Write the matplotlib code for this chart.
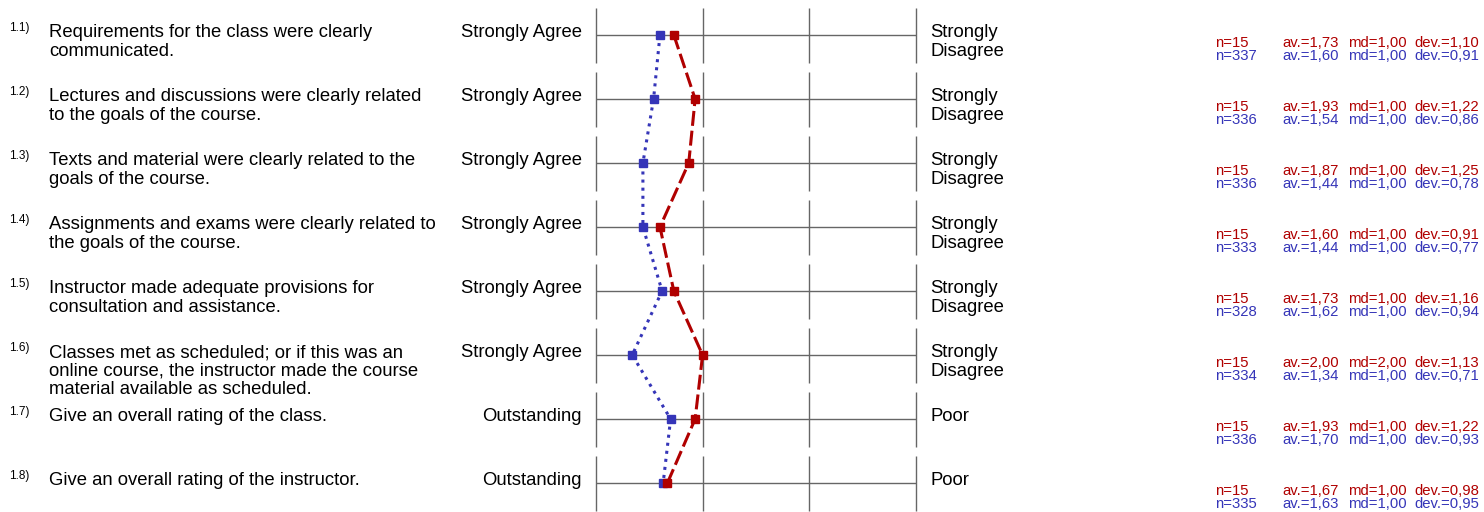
"""Course evaluation profile line: class vs. comparison group."""

import matplotlib

matplotlib.use("Agg")
import matplotlib.pyplot as plt
import numpy as np

plt.rcParams["font.family"] = ["Liberation Sans", "DejaVu Sans"]

RED = "#b00000"
BLUE = "#3535b8"
GRID = "#666666"

item_ids = ["1.1)", "1.2)", "1.3)", "1.4)", "1.5)", "1.6)", "1.7)", "1.8)"]
questions = [
    "Requirements for the class were clearly\ncommunicated.",
    "Lectures and discussions were clearly related\nto the goals of the course.",
    "Texts and material were clearly related to the\ngoals of the course.",
    "Assignments and exams were clearly related to\nthe goals of the course.",
    "Instructor made adequate provisions for\nconsultation and assistance.",
    "Classes met as scheduled; or if this was an\nonline course, the instructor made the course\nmaterial available as scheduled.",
    "Give an overall rating of the class.",
    "Give an overall rating of the instructor.",
]
left_labels = ["Strongly Agree"] * 6 + ["Outstanding"] * 2
right_labels = ["Strongly\nDisagree"] * 6 + ["Poor"] * 2

# course (red)
course_n = [15, 15, 15, 15, 15, 15, 15, 15]
course_av = [1.73, 1.93, 1.87, 1.60, 1.73, 2.00, 1.93, 1.67]
course_md = [1.00, 1.00, 1.00, 1.00, 1.00, 2.00, 1.00, 1.00]
course_dev = [1.10, 1.22, 1.25, 0.91, 1.16, 1.13, 1.22, 0.98]

# comparison group (blue)
group_n = [337, 336, 336, 333, 328, 334, 336, 335]
group_av = [1.60, 1.54, 1.44, 1.44, 1.62, 1.34, 1.70, 1.63]
group_md = [1.00, 1.00, 1.00, 1.00, 1.00, 1.00, 1.00, 1.00]
group_dev = [0.91, 0.86, 0.78, 0.77, 0.94, 0.71, 0.93, 0.95]

scale_ticks = [1, 2, 3, 4]

# layout in pixels
W, H = 1484, 512
X0, STEP = 596.0, 106.6  # pixel of scale value 1 and width of one step
ROW0, ROW_H = 35.0, 64.0


def px(p):
    return 1 + (p - X0) / STEP


def dy(p):
    return p / ROW_H


def fmt(v):
    return f"{v:.2f}".replace(".", ",")


fig = plt.figure(figsize=(W / 100, H / 100), dpi=100)
ax = fig.add_axes([0, 0, 1, 1])
ax.set_xlim(px(0), px(W))
ax.set_ylim((H - ROW0) / ROW_H, -ROW0 / ROW_H)
ax.axis("off")

rows = np.arange(len(questions))

for r in rows:
    ax.hlines(r, scale_ticks[0], scale_ticks[-1], color=GRID, lw=1.0, zorder=1)
    ax.vlines(scale_ticks, r - dy(27), r + dy(28), color=GRID, lw=1.0, zorder=1)

    top = r - dy(11)
    ax.text(px(9), r - dy(4), item_ids[r], fontsize=8.5, ha="left", va="baseline")
    ax.text(px(49), top, questions[r], fontsize=13.3, ha="left", va="top",
            linespacing=1.12)
    ax.text(px(582), top, left_labels[r], fontsize=13.3, ha="right", va="top")
    ax.text(px(930), top, right_labels[r], fontsize=13.3, ha="left", va="top",
            linespacing=1.12)

    for n, av, md, dev, col, off in [
        (course_n[r], course_av[r], course_md[r], course_dev[r], RED, 12),
        (group_n[r], group_av[r], group_md[r], group_dev[r], BLUE, 25),
    ]:
        y = r + dy(off)
        ax.text(px(1215), y, f"n={n}", color=col, fontsize=10.7, va="baseline")
        ax.text(px(1282), y, f"av.={fmt(av)}", color=col, fontsize=10.7, va="baseline")
        ax.text(px(1348), y, f"md={fmt(md)}", color=col, fontsize=10.7, va="baseline")
        ax.text(px(1414), y, f"dev.={fmt(dev)}", color=col, fontsize=10.7, va="baseline")

ax.plot(group_av, rows, color=BLUE, ls=":", lw=2.2, marker="s", ms=6,
        mec=BLUE, mfc=BLUE, zorder=3)
ax.plot(course_av, rows, color=RED, lw=2.2, dashes=(4.9, 1.6), marker="s", ms=6,
        mec=RED, mfc=RED, zorder=4)

fig.savefig("out.png", dpi=100)
